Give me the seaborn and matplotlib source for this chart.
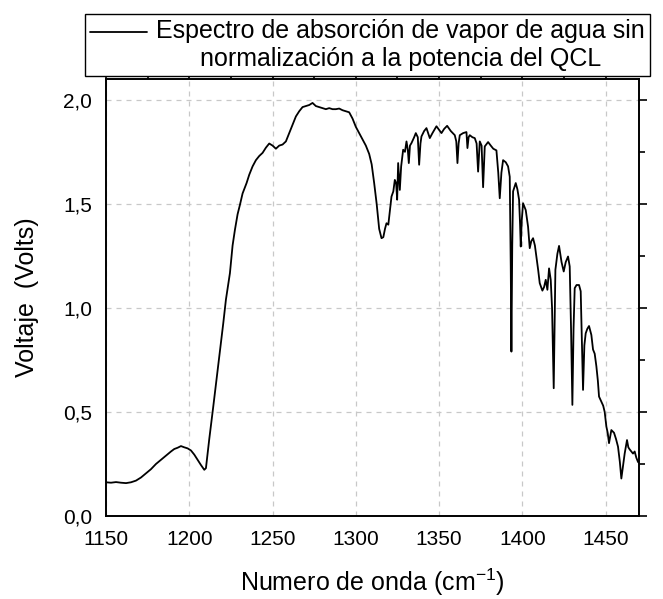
import numpy as np
import pandas as pd
import matplotlib
matplotlib.use("Agg")
import matplotlib.pyplot as plt
from matplotlib.ticker import MultipleLocator, FuncFormatter
from matplotlib.legend_handler import HandlerLine2D
from matplotlib.lines import Line2D
import seaborn as sns

wavenumber = [
    1150, 1153, 1156, 1159, 1162, 1165, 1168, 1171, 1174, 1177, 1180, 1183, 1186, 1189, 1191, 1193,
    1195, 1197, 1199, 1201, 1203, 1205, 1207, 1209, 1210, 1212, 1214.4, 1217, 1220.4, 1222, 1224.4,
    1226, 1227.4, 1229, 1230.4, 1232, 1234.4, 1236, 1238, 1240, 1242, 1244, 1246, 1248, 1250, 1252,
    1254, 1256, 1258, 1260, 1262, 1264, 1266, 1268, 1270, 1272, 1274, 1276, 1278, 1280, 1282, 1284,
    1286, 1288, 1290, 1292, 1294, 1296, 1298, 1300, 1302, 1304, 1306, 1308, 1309.5, 1311, 1312.5,
    1314, 1315.4, 1316.5, 1317.5, 1318.4, 1319.5, 1320.5, 1321.4, 1322.5, 1323.4, 1324.2, 1324.8,
    1325.4, 1326.0, 1326.4, 1327.2, 1328.4, 1329.5, 1330.4, 1331.2, 1331.8, 1332.5, 1333.4, 1335,
    1336, 1337.2, 1338, 1338.8, 1339.4, 1341, 1342.4, 1344.4, 1346, 1348.4, 1350, 1351.4, 1353,
    1354.8, 1357, 1359.4, 1360.3, 1361, 1361.7, 1362.4, 1364.4, 1366.4, 1367, 1367.7, 1368.4, 1370,
    1371.4, 1372.5, 1373.4, 1374.4, 1375.5, 1376.4, 1377.4, 1379.4, 1381, 1382.5, 1384.4, 1385.5,
    1386.4, 1387.4, 1388.4, 1390, 1391.4, 1392.4, 1393.0, 1393.4, 1393.9, 1394.4, 1396, 1397, 1398,
    1398.6, 1399, 1399.6, 1400.4, 1402, 1403.4, 1404.4, 1405.3, 1406.4, 1407.5, 1408.4, 1409.5,
    1410.4, 1412, 1413, 1414, 1415, 1416, 1417, 1417.8, 1418.8, 1419.3, 1419.8, 1421, 1422, 1423.5,
    1424.8, 1426, 1427.4, 1428.4, 1429.2, 1430, 1430.7, 1431.4, 1432.5, 1434, 1435, 1435.7, 1436.4,
    1437.2, 1438, 1439, 1440, 1441.4, 1442.4, 1443.4, 1444.4, 1445.3, 1446, 1447.4, 1448.5, 1449.4,
    1450.4, 1451.2, 1452, 1453.4, 1455, 1456.2, 1457.4, 1458.5, 1459.4, 1460.4, 1461.4, 1462.8,
    1463.6, 1464.4, 1465.4, 1466.4, 1467.4, 1468.4, 1469.4, 1470,
]
voltage = [
    0.162, 0.160, 0.163, 0.160, 0.158, 0.162, 0.170, 0.185, 0.205, 0.225, 0.250, 0.270, 0.290, 0.310, 0.322, 0.328,
    0.336, 0.330, 0.325, 0.315, 0.295, 0.270, 0.245, 0.222, 0.230, 0.37, 0.526, 0.70, 0.926, 1.04, 1.167,
    1.30, 1.375, 1.45, 1.495, 1.55, 1.600, 1.64, 1.68, 1.71, 1.73, 1.745, 1.77, 1.79, 1.78, 1.765,
    1.78, 1.785, 1.80, 1.84, 1.88, 1.92, 1.945, 1.965, 1.97, 1.975, 1.985, 1.97, 1.965, 1.96, 1.955, 1.96,
    1.955, 1.955, 1.958, 1.95, 1.945, 1.94, 1.91, 1.87, 1.84, 1.81, 1.78, 1.74, 1.69, 1.60, 1.50,
    1.38, 1.335, 1.34, 1.38, 1.407, 1.40, 1.47, 1.535, 1.56, 1.615, 1.60, 1.52,
    1.696, 1.62, 1.567, 1.68, 1.76, 1.75, 1.80, 1.76, 1.696, 1.78, 1.792, 1.82,
    1.84, 1.82, 1.688, 1.79, 1.824, 1.85, 1.864, 1.816, 1.84, 1.873, 1.855, 1.84, 1.86,
    1.875, 1.85, 1.83, 1.80, 1.696, 1.79, 1.83, 1.84, 1.845, 1.768, 1.82, 1.83, 1.82,
    1.816, 1.79, 1.655, 1.80, 1.78, 1.58, 1.776, 1.797, 1.78, 1.765, 1.757, 1.65,
    1.527, 1.65, 1.71, 1.70, 1.68, 1.63, 1.2, 0.79, 1.3, 1.56, 1.60, 1.57, 1.52,
    1.40, 1.295, 1.42, 1.503, 1.47, 1.39, 1.287, 1.32, 1.335, 1.30, 1.247, 1.18,
    1.119, 1.083, 1.10, 1.135, 1.087, 1.19, 1.135, 1.0, 0.614, 0.9, 1.183, 1.26, 1.298, 1.22,
    1.175, 1.22, 1.247, 1.199, 0.9, 0.534, 0.9, 1.095, 1.11, 1.11, 1.08, 0.85, 0.606,
    0.82, 0.878, 0.90, 0.913, 0.87, 0.80, 0.78, 0.72, 0.65, 0.574, 0.55, 0.53, 0.50,
    0.43, 0.40, 0.35, 0.413, 0.40, 0.37, 0.333, 0.26, 0.18, 0.24, 0.30, 0.365,
    0.33, 0.32, 0.31, 0.30, 0.31, 0.28, 0.26, 0.255,
]

legend_label = "Espectro de absorción de vapor de agua sin\nnormalización a la potencia del QCL"
x_label = "Numero de onda (cm$^{-1}$)"
y_label = "Voltaje  (Volts)"

df = pd.DataFrame({"x": wavenumber, "y": voltage})

sns.set_style("white")
plt.rcParams["font.family"] = ["Liberation Sans", "DejaVu Sans"]
plt.rcParams["mathtext.fontset"] = "custom"
plt.rcParams["mathtext.rm"] = "Liberation Sans"
plt.rcParams["mathtext.it"] = "Liberation Sans"
for k in ["text.color", "axes.labelcolor", "xtick.color", "ytick.color"]:
    plt.rcParams[k] = "black"


class RaisedLineHandler(HandlerLine2D):
    def __init__(self, shift, **kw):
        super().__init__(**kw)
        self.shift = shift

    def create_artists(self, legend, orig_handle, xdescent, ydescent, width, height, fontsize, trans):
        return super().create_artists(legend, orig_handle, xdescent, ydescent - self.shift,
                                      width, height, fontsize, trans)


fig = plt.figure(figsize=(6.63, 5.99), dpi=100)
ax = fig.add_axes([106 / 663, 83 / 599, (639 - 106) / 663, (516 - 79) / 599])

sns.lineplot(data=df, x="x", y="y", ax=ax, color="black", linewidth=1.3,
             estimator=None, sort=False, label=legend_label, legend=False)

ax.set_xlim(1150, 1470)
ax.set_ylim(0, 2.1)
ax.xaxis.set_major_locator(MultipleLocator(50))
ax.xaxis.set_minor_locator(MultipleLocator(25))
ax.yaxis.set_major_locator(MultipleLocator(0.5))
ax.yaxis.set_minor_locator(MultipleLocator(0.25))
ax.yaxis.set_major_formatter(FuncFormatter(lambda v, p: f"{v:.1f}".replace(".", ",")))

ax.grid(True, which="major", color="#c8c8c8", linestyle=(0, (4, 4)), linewidth=0.9)
for s in ax.spines.values():
    s.set_color("black")
    s.set_linewidth(1.4)

ax.tick_params(which="both", direction="out", top=True, right=True, color="black",
               labelcolor="black", width=1.2)
ax.tick_params(which="major", length=6, labelsize=15, pad=4)
ax.tick_params(which="minor", length=4.5)

ax.set_xlabel(x_label, fontsize=18, labelpad=13)
ax.set_ylabel(y_label, fontsize=18, labelpad=17)

handles, labels = ax.get_legend_handles_labels()
leg = fig.legend(handles, labels, loc="upper left", bbox_to_anchor=(85 / 663, 1 - 14 / 599),
                 bbox_transform=fig.transFigure, borderaxespad=0, fontsize=18,
                 frameon=True, fancybox=False, edgecolor="black", framealpha=1,
                 handlelength=2.3, handletextpad=0.36, borderpad=0.2,
                 handler_map={Line2D: RaisedLineHandler(shift=20)})
leg.get_frame().set_linewidth(1.0)
for t in leg.get_texts():
    t.set_multialignment("center")

fig.savefig("out.png", dpi=100)
